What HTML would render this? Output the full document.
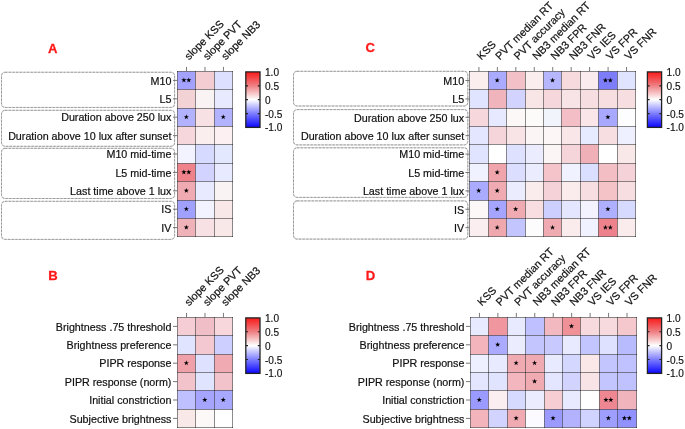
<!DOCTYPE html>
<html><head><meta charset="utf-8"><style>
html,body{margin:0;padding:0;background:#fff;}
body{width:685px;height:429px;overflow:hidden;}
svg{display:block;will-change:transform;}
.l{font-family:"Liberation Sans",sans-serif;font-size:10.73px;fill:#111;stroke:#111;stroke-width:0.2px;}
.h{font-size:10.8px;}
.cb{font-family:"Liberation Sans",sans-serif;font-size:10.1px;fill:#111;stroke:#111;stroke-width:0.15px;}
.p{font-family:"Liberation Sans",sans-serif;font-size:13.1px;font-weight:bold;fill:#ff1a1a;stroke:#ff1a1a;stroke-width:0.3px;}
</style></head><body>
<svg width="685" height="429" viewBox="0 0 685 429">
<defs><linearGradient id="cb" x1="0" y1="0" x2="0" y2="1">
<stop offset="0" stop-color="rgb(250,25,25)"/>
<stop offset="0.25" stop-color="rgb(238,128,132)"/>
<stop offset="0.5" stop-color="rgb(255,255,255)"/>
<stop offset="0.75" stop-color="rgb(125,125,255)"/>
<stop offset="1" stop-color="rgb(10,5,255)"/>
</linearGradient></defs>
<rect width="685" height="429" fill="#fff"/>
<rect x="1.50" y="72.25" width="173.10" height="35.20" rx="3.5" ry="3.5" fill="none" stroke="#d6d6d6" stroke-width="1"/>
<rect x="1.50" y="72.25" width="173.10" height="35.20" rx="3.5" ry="3.5" fill="none" stroke="#959595" stroke-width="0.9" stroke-dasharray="2.4 1.25"/>
<rect x="1.50" y="110.30" width="173.10" height="36.00" rx="3.5" ry="3.5" fill="none" stroke="#d6d6d6" stroke-width="1"/>
<rect x="1.50" y="110.30" width="173.10" height="36.00" rx="3.5" ry="3.5" fill="none" stroke="#959595" stroke-width="0.9" stroke-dasharray="2.4 1.25"/>
<rect x="1.50" y="148.30" width="173.10" height="50.20" rx="3.5" ry="3.5" fill="none" stroke="#d6d6d6" stroke-width="1"/>
<rect x="1.50" y="148.30" width="173.10" height="50.20" rx="3.5" ry="3.5" fill="none" stroke="#959595" stroke-width="0.9" stroke-dasharray="2.4 1.25"/>
<rect x="1.50" y="201.30" width="173.10" height="38.10" rx="3.5" ry="3.5" fill="none" stroke="#d6d6d6" stroke-width="1"/>
<rect x="1.50" y="201.30" width="173.10" height="38.10" rx="3.5" ry="3.5" fill="none" stroke="#959595" stroke-width="0.9" stroke-dasharray="2.4 1.25"/>
<rect x="293.50" y="71.30" width="174.30" height="34.70" rx="3.5" ry="3.5" fill="none" stroke="#d6d6d6" stroke-width="1"/>
<rect x="293.50" y="71.30" width="174.30" height="34.70" rx="3.5" ry="3.5" fill="none" stroke="#959595" stroke-width="0.9" stroke-dasharray="2.4 1.25"/>
<rect x="293.50" y="109.60" width="174.30" height="35.30" rx="3.5" ry="3.5" fill="none" stroke="#d6d6d6" stroke-width="1"/>
<rect x="293.50" y="109.60" width="174.30" height="35.30" rx="3.5" ry="3.5" fill="none" stroke="#959595" stroke-width="0.9" stroke-dasharray="2.4 1.25"/>
<rect x="293.50" y="147.80" width="174.30" height="49.60" rx="3.5" ry="3.5" fill="none" stroke="#d6d6d6" stroke-width="1"/>
<rect x="293.50" y="147.80" width="174.30" height="49.60" rx="3.5" ry="3.5" fill="none" stroke="#959595" stroke-width="0.9" stroke-dasharray="2.4 1.25"/>
<rect x="293.50" y="200.90" width="174.30" height="38.20" rx="3.5" ry="3.5" fill="none" stroke="#d6d6d6" stroke-width="1"/>
<rect x="293.50" y="200.90" width="174.30" height="38.20" rx="3.5" ry="3.5" fill="none" stroke="#959595" stroke-width="0.9" stroke-dasharray="2.4 1.25"/>
<rect x="177.50" y="71.50" width="18.00" height="18.00" fill="rgb(163,163,255)"/>
<rect x="195.50" y="71.50" width="19.00" height="18.00" fill="rgb(243,205,210)"/>
<rect x="214.50" y="71.50" width="18.00" height="18.00" fill="rgb(222,224,255)"/>
<rect x="177.50" y="89.50" width="18.00" height="19.00" fill="rgb(243,210,213)"/>
<rect x="195.50" y="89.50" width="19.00" height="19.00" fill="rgb(250,243,243)"/>
<rect x="214.50" y="89.50" width="18.00" height="19.00" fill="rgb(232,234,255)"/>
<rect x="177.50" y="108.50" width="18.00" height="18.00" fill="rgb(178,178,255)"/>
<rect x="195.50" y="108.50" width="19.00" height="18.00" fill="rgb(247,225,228)"/>
<rect x="214.50" y="108.50" width="18.00" height="18.00" fill="rgb(178,178,255)"/>
<rect x="177.50" y="126.50" width="18.00" height="18.00" fill="rgb(245,215,220)"/>
<rect x="195.50" y="126.50" width="19.00" height="18.00" fill="rgb(250,238,238)"/>
<rect x="214.50" y="126.50" width="18.00" height="18.00" fill="rgb(252,240,243)"/>
<rect x="177.50" y="144.50" width="18.00" height="19.00" fill="rgb(243,243,255)"/>
<rect x="195.50" y="144.50" width="19.00" height="19.00" fill="rgb(215,218,255)"/>
<rect x="214.50" y="144.50" width="18.00" height="19.00" fill="rgb(228,232,255)"/>
<rect x="177.50" y="163.50" width="18.00" height="18.00" fill="rgb(240,130,140)"/>
<rect x="195.50" y="163.50" width="19.00" height="18.00" fill="rgb(210,212,255)"/>
<rect x="214.50" y="163.50" width="18.00" height="18.00" fill="rgb(232,234,255)"/>
<rect x="177.50" y="181.50" width="18.00" height="19.00" fill="rgb(240,170,178)"/>
<rect x="195.50" y="181.50" width="19.00" height="19.00" fill="rgb(232,235,255)"/>
<rect x="214.50" y="181.50" width="18.00" height="19.00" fill="rgb(250,243,243)"/>
<rect x="177.50" y="200.50" width="18.00" height="18.00" fill="rgb(160,160,255)"/>
<rect x="195.50" y="200.50" width="19.00" height="18.00" fill="rgb(243,243,255)"/>
<rect x="214.50" y="200.50" width="18.00" height="18.00" fill="rgb(248,232,232)"/>
<rect x="177.50" y="218.50" width="18.00" height="18.00" fill="rgb(240,178,185)"/>
<rect x="195.50" y="218.50" width="19.00" height="18.00" fill="rgb(248,225,228)"/>
<rect x="214.50" y="218.50" width="18.00" height="18.00" fill="rgb(248,232,232)"/>
<path d="M177.50 71.00V237.00M195.50 71.00V237.00M214.50 71.00V237.00M232.50 71.00V237.00M177.00 71.50H233.00M177.00 89.50H233.00M177.00 108.50H233.00M177.00 126.50H233.00M177.00 144.50H233.00M177.00 163.50H233.00M177.00 181.50H233.00M177.00 200.50H233.00M177.00 218.50H233.00M177.00 236.50H233.00" stroke="rgba(0,0,0,0.45)" stroke-width="1" fill="none"/>
<polygon points="183.88,77.50 184.51,79.33 186.44,79.37 184.90,80.53 185.46,82.38 183.88,81.28 182.29,82.38 182.85,80.53 181.31,79.37 183.24,79.33" fill="#000"/>
<polygon points="188.78,77.50 189.41,79.33 191.34,79.37 189.80,80.53 190.36,82.38 188.78,81.28 187.19,82.38 187.75,80.53 186.21,79.37 188.14,79.33" fill="#000"/>
<polygon points="186.33,114.30 186.96,116.13 188.89,116.17 187.35,117.33 187.91,119.18 186.33,118.08 184.74,119.18 185.30,117.33 183.76,116.17 185.69,116.13" fill="#000"/>
<polygon points="223.23,114.30 223.86,116.13 225.79,116.17 224.25,117.33 224.81,119.18 223.23,118.08 221.64,119.18 222.20,117.33 220.66,116.17 222.59,116.13" fill="#000"/>
<polygon points="183.88,169.50 184.51,171.33 186.44,171.37 184.90,172.53 185.46,174.38 183.88,173.28 182.29,174.38 182.85,172.53 181.31,171.37 183.24,171.33" fill="#000"/>
<polygon points="188.78,169.50 189.41,171.33 191.34,171.37 189.80,172.53 190.36,174.38 188.78,173.28 187.19,174.38 187.75,172.53 186.21,171.37 188.14,171.33" fill="#000"/>
<polygon points="186.33,187.90 186.96,189.73 188.89,189.77 187.35,190.93 187.91,192.78 186.33,191.68 184.74,192.78 185.30,190.93 183.76,189.77 185.69,189.73" fill="#000"/>
<polygon points="186.33,206.30 186.96,208.13 188.89,208.17 187.35,209.33 187.91,211.18 186.33,210.08 184.74,211.18 185.30,209.33 183.76,208.17 185.69,208.13" fill="#000"/>
<polygon points="186.33,224.70 186.96,226.53 188.89,226.57 187.35,227.73 187.91,229.58 186.33,228.48 184.74,229.58 185.30,227.73 183.76,226.57 185.69,226.53" fill="#000"/>
<path d="M173.00 80.40H177.30M173.00 98.80H177.30M173.00 117.20H177.30M173.00 135.60H177.30M173.00 154.00H177.30M173.00 172.40H177.30M173.00 190.80H177.30M173.00 209.20H177.30M173.00 227.60H177.30M186.53 66.90V71.20M204.98 66.90V71.20M223.43 66.90V71.20" stroke="#6a6a6a" stroke-width="0.9" fill="none"/>
<text x="171.40" y="84.64" text-anchor="end" class="l">M10</text>
<text x="171.40" y="103.04" text-anchor="end" class="l">L5</text>
<text x="171.40" y="121.44" text-anchor="end" class="l">Duration above 250 lux</text>
<text x="171.40" y="139.84" text-anchor="end" class="l">Duration above 10 lux after sunset</text>
<text x="171.40" y="158.24" text-anchor="end" class="l">M10 mid-time</text>
<text x="171.40" y="176.64" text-anchor="end" class="l">L5 mid-time</text>
<text x="171.40" y="195.04" text-anchor="end" class="l">Last time above 1 lux</text>
<text x="171.40" y="213.44" text-anchor="end" class="l">IS</text>
<text x="171.40" y="231.84" text-anchor="end" class="l">IV</text>
<text transform="translate(188.93 60.40) rotate(-45)" class="l h">slope KSS</text>
<text transform="translate(207.38 60.40) rotate(-45)" class="l h">slope PVT</text>
<text transform="translate(225.83 60.40) rotate(-45)" class="l h">slope NB3</text>
<rect x="177.50" y="317.50" width="18.00" height="18.00" fill="rgb(245,205,212)"/>
<rect x="195.50" y="317.50" width="19.00" height="18.00" fill="rgb(240,190,198)"/>
<rect x="214.50" y="317.50" width="18.00" height="18.00" fill="rgb(248,215,220)"/>
<rect x="177.50" y="335.50" width="18.00" height="19.00" fill="rgb(225,228,255)"/>
<rect x="195.50" y="335.50" width="19.00" height="19.00" fill="rgb(243,200,208)"/>
<rect x="214.50" y="335.50" width="18.00" height="19.00" fill="rgb(205,208,255)"/>
<rect x="177.50" y="354.50" width="18.00" height="18.00" fill="rgb(240,160,168)"/>
<rect x="195.50" y="354.50" width="19.00" height="18.00" fill="rgb(222,225,255)"/>
<rect x="214.50" y="354.50" width="18.00" height="18.00" fill="rgb(240,170,178)"/>
<rect x="177.50" y="372.50" width="18.00" height="18.00" fill="rgb(243,195,203)"/>
<rect x="195.50" y="372.50" width="19.00" height="18.00" fill="rgb(225,228,255)"/>
<rect x="214.50" y="372.50" width="18.00" height="18.00" fill="rgb(243,195,203)"/>
<rect x="177.50" y="390.50" width="18.00" height="19.00" fill="rgb(190,192,255)"/>
<rect x="195.50" y="390.50" width="19.00" height="19.00" fill="rgb(165,165,255)"/>
<rect x="214.50" y="390.50" width="18.00" height="19.00" fill="rgb(168,168,255)"/>
<rect x="177.50" y="409.50" width="18.00" height="18.00" fill="rgb(248,232,232)"/>
<rect x="195.50" y="409.50" width="19.00" height="18.00" fill="rgb(252,248,248)"/>
<rect x="214.50" y="409.50" width="18.00" height="18.00" fill="rgb(255,255,255)"/>
<path d="M177.50 317.00V428.00M195.50 317.00V428.00M214.50 317.00V428.00M232.50 317.00V428.00M177.00 317.50H233.00M177.00 335.50H233.00M177.00 354.50H233.00M177.00 372.50H233.00M177.00 390.50H233.00M177.00 409.50H233.00M177.00 427.50H233.00" stroke="rgba(0,0,0,0.45)" stroke-width="1" fill="none"/>
<polygon points="186.33,360.30 186.96,362.13 188.89,362.17 187.35,363.33 187.91,365.18 186.33,364.08 184.74,365.18 185.30,363.33 183.76,362.17 185.69,362.13" fill="#000"/>
<polygon points="204.78,397.10 205.41,398.93 207.34,398.97 205.80,400.13 206.36,401.98 204.78,400.88 203.19,401.98 203.75,400.13 202.21,398.97 204.14,398.93" fill="#000"/>
<polygon points="223.23,397.10 223.86,398.93 225.79,398.97 224.25,400.13 224.81,401.98 223.23,400.88 221.64,401.98 222.20,400.13 220.66,398.97 222.59,398.93" fill="#000"/>
<path d="M173.00 326.40H177.30M173.00 344.80H177.30M173.00 363.20H177.30M173.00 381.60H177.30M173.00 400.00H177.30M173.00 418.40H177.30M186.53 312.90V317.20M204.98 312.90V317.20M223.43 312.90V317.20" stroke="#6a6a6a" stroke-width="0.9" fill="none"/>
<text x="171.40" y="330.64" text-anchor="end" class="l">Brightness .75 threshold</text>
<text x="171.40" y="349.04" text-anchor="end" class="l">Brightness preference</text>
<text x="171.40" y="367.44" text-anchor="end" class="l">PIPR response</text>
<text x="171.40" y="385.84" text-anchor="end" class="l">PIPR response (norm)</text>
<text x="171.40" y="404.24" text-anchor="end" class="l">Initial constriction</text>
<text x="171.40" y="422.64" text-anchor="end" class="l">Subjective brightness</text>
<text transform="translate(188.93 306.40) rotate(-45)" class="l h">slope KSS</text>
<text transform="translate(207.38 306.40) rotate(-45)" class="l h">slope PVT</text>
<text transform="translate(225.83 306.40) rotate(-45)" class="l h">slope NB3</text>
<rect x="469.50" y="71.50" width="19.00" height="18.00" fill="rgb(250,238,238)"/>
<rect x="488.50" y="71.50" width="18.00" height="18.00" fill="rgb(170,170,255)"/>
<rect x="506.50" y="71.50" width="19.00" height="18.00" fill="rgb(243,192,200)"/>
<rect x="525.50" y="71.50" width="18.00" height="18.00" fill="rgb(250,238,238)"/>
<rect x="543.50" y="71.50" width="18.00" height="18.00" fill="rgb(182,182,255)"/>
<rect x="561.50" y="71.50" width="19.00" height="18.00" fill="rgb(247,218,222)"/>
<rect x="580.50" y="71.50" width="18.00" height="18.00" fill="rgb(250,235,238)"/>
<rect x="598.50" y="71.50" width="19.00" height="18.00" fill="rgb(125,125,250)"/>
<rect x="617.50" y="71.50" width="18.00" height="18.00" fill="rgb(225,228,255)"/>
<rect x="469.50" y="89.50" width="19.00" height="19.00" fill="rgb(225,228,255)"/>
<rect x="488.50" y="89.50" width="18.00" height="19.00" fill="rgb(240,180,188)"/>
<rect x="506.50" y="89.50" width="19.00" height="19.00" fill="rgb(210,212,255)"/>
<rect x="525.50" y="89.50" width="18.00" height="19.00" fill="rgb(248,230,230)"/>
<rect x="543.50" y="89.50" width="18.00" height="19.00" fill="rgb(245,215,220)"/>
<rect x="561.50" y="89.50" width="19.00" height="19.00" fill="rgb(248,228,230)"/>
<rect x="580.50" y="89.50" width="18.00" height="19.00" fill="rgb(247,222,225)"/>
<rect x="598.50" y="89.50" width="19.00" height="19.00" fill="rgb(247,222,225)"/>
<rect x="617.50" y="89.50" width="18.00" height="19.00" fill="rgb(247,222,225)"/>
<rect x="469.50" y="108.50" width="19.00" height="18.00" fill="rgb(245,215,220)"/>
<rect x="488.50" y="108.50" width="18.00" height="18.00" fill="rgb(230,233,255)"/>
<rect x="506.50" y="108.50" width="19.00" height="18.00" fill="rgb(252,248,248)"/>
<rect x="525.50" y="108.50" width="18.00" height="18.00" fill="rgb(253,250,250)"/>
<rect x="543.50" y="108.50" width="18.00" height="18.00" fill="rgb(242,244,252)"/>
<rect x="561.50" y="108.50" width="19.00" height="18.00" fill="rgb(243,190,198)"/>
<rect x="580.50" y="108.50" width="18.00" height="18.00" fill="rgb(250,230,232)"/>
<rect x="598.50" y="108.50" width="19.00" height="18.00" fill="rgb(168,168,255)"/>
<rect x="617.50" y="108.50" width="18.00" height="18.00" fill="rgb(253,253,255)"/>
<rect x="469.50" y="126.50" width="19.00" height="18.00" fill="rgb(228,230,255)"/>
<rect x="488.50" y="126.50" width="18.00" height="18.00" fill="rgb(245,212,218)"/>
<rect x="506.50" y="126.50" width="19.00" height="18.00" fill="rgb(248,228,230)"/>
<rect x="525.50" y="126.50" width="18.00" height="18.00" fill="rgb(252,245,246)"/>
<rect x="543.50" y="126.50" width="18.00" height="18.00" fill="rgb(252,246,246)"/>
<rect x="561.50" y="126.50" width="19.00" height="18.00" fill="rgb(248,230,232)"/>
<rect x="580.50" y="126.50" width="18.00" height="18.00" fill="rgb(230,235,255)"/>
<rect x="598.50" y="126.50" width="19.00" height="18.00" fill="rgb(246,222,225)"/>
<rect x="617.50" y="126.50" width="18.00" height="18.00" fill="rgb(238,240,255)"/>
<rect x="469.50" y="144.50" width="19.00" height="19.00" fill="rgb(225,228,255)"/>
<rect x="488.50" y="144.50" width="18.00" height="19.00" fill="rgb(255,255,255)"/>
<rect x="506.50" y="144.50" width="19.00" height="19.00" fill="rgb(222,225,255)"/>
<rect x="525.50" y="144.50" width="18.00" height="19.00" fill="rgb(235,237,255)"/>
<rect x="543.50" y="144.50" width="18.00" height="19.00" fill="rgb(252,245,246)"/>
<rect x="561.50" y="144.50" width="19.00" height="19.00" fill="rgb(245,212,218)"/>
<rect x="580.50" y="144.50" width="18.00" height="19.00" fill="rgb(240,176,184)"/>
<rect x="598.50" y="144.50" width="19.00" height="19.00" fill="rgb(255,255,255)"/>
<rect x="617.50" y="144.50" width="18.00" height="19.00" fill="rgb(248,232,232)"/>
<rect x="469.50" y="163.50" width="19.00" height="18.00" fill="rgb(240,242,255)"/>
<rect x="488.50" y="163.50" width="18.00" height="18.00" fill="rgb(240,165,173)"/>
<rect x="506.50" y="163.50" width="19.00" height="18.00" fill="rgb(220,222,255)"/>
<rect x="525.50" y="163.50" width="18.00" height="18.00" fill="rgb(235,237,255)"/>
<rect x="543.50" y="163.50" width="18.00" height="18.00" fill="rgb(245,195,202)"/>
<rect x="561.50" y="163.50" width="19.00" height="18.00" fill="rgb(240,243,255)"/>
<rect x="580.50" y="163.50" width="18.00" height="18.00" fill="rgb(218,222,255)"/>
<rect x="598.50" y="163.50" width="19.00" height="18.00" fill="rgb(243,190,196)"/>
<rect x="617.50" y="163.50" width="18.00" height="18.00" fill="rgb(245,210,215)"/>
<rect x="469.50" y="181.50" width="19.00" height="19.00" fill="rgb(170,170,255)"/>
<rect x="488.50" y="181.50" width="18.00" height="19.00" fill="rgb(240,170,178)"/>
<rect x="506.50" y="181.50" width="19.00" height="19.00" fill="rgb(235,237,255)"/>
<rect x="525.50" y="181.50" width="18.00" height="19.00" fill="rgb(250,235,236)"/>
<rect x="543.50" y="181.50" width="18.00" height="19.00" fill="rgb(245,210,215)"/>
<rect x="561.50" y="181.50" width="19.00" height="19.00" fill="rgb(250,235,236)"/>
<rect x="580.50" y="181.50" width="18.00" height="19.00" fill="rgb(247,222,225)"/>
<rect x="598.50" y="181.50" width="19.00" height="19.00" fill="rgb(243,195,200)"/>
<rect x="617.50" y="181.50" width="18.00" height="19.00" fill="rgb(247,222,225)"/>
<rect x="469.50" y="200.50" width="19.00" height="18.00" fill="rgb(252,248,248)"/>
<rect x="488.50" y="200.50" width="18.00" height="18.00" fill="rgb(165,165,255)"/>
<rect x="506.50" y="200.50" width="19.00" height="18.00" fill="rgb(240,170,178)"/>
<rect x="525.50" y="200.50" width="18.00" height="18.00" fill="rgb(248,222,225)"/>
<rect x="543.50" y="200.50" width="18.00" height="18.00" fill="rgb(205,207,255)"/>
<rect x="561.50" y="200.50" width="19.00" height="18.00" fill="rgb(228,230,255)"/>
<rect x="580.50" y="200.50" width="18.00" height="18.00" fill="rgb(242,243,255)"/>
<rect x="598.50" y="200.50" width="19.00" height="18.00" fill="rgb(175,175,255)"/>
<rect x="617.50" y="200.50" width="18.00" height="18.00" fill="rgb(215,218,255)"/>
<rect x="469.50" y="218.50" width="19.00" height="18.00" fill="rgb(250,238,240)"/>
<rect x="488.50" y="218.50" width="18.00" height="18.00" fill="rgb(240,168,175)"/>
<rect x="506.50" y="218.50" width="19.00" height="18.00" fill="rgb(195,197,255)"/>
<rect x="525.50" y="218.50" width="18.00" height="18.00" fill="rgb(253,252,252)"/>
<rect x="543.50" y="218.50" width="18.00" height="18.00" fill="rgb(240,170,178)"/>
<rect x="561.50" y="218.50" width="19.00" height="18.00" fill="rgb(250,235,236)"/>
<rect x="580.50" y="218.50" width="18.00" height="18.00" fill="rgb(240,242,255)"/>
<rect x="598.50" y="218.50" width="19.00" height="18.00" fill="rgb(238,130,140)"/>
<rect x="617.50" y="218.50" width="18.00" height="18.00" fill="rgb(250,235,236)"/>
<path d="M469.50 71.00V237.00M488.50 71.00V237.00M506.50 71.00V237.00M525.50 71.00V237.00M543.50 71.00V237.00M561.50 71.00V237.00M580.50 71.00V237.00M598.50 71.00V237.00M617.50 71.00V237.00M635.50 71.00V237.00M469.00 71.50H636.00M469.00 89.50H636.00M469.00 108.50H636.00M469.00 126.50H636.00M469.00 144.50H636.00M469.00 163.50H636.00M469.00 181.50H636.00M469.00 200.50H636.00M469.00 218.50H636.00M469.00 236.50H636.00" stroke="rgba(0,0,0,0.45)" stroke-width="1" fill="none"/>
<polygon points="497.18,77.60 497.81,79.43 499.74,79.47 498.20,80.63 498.76,82.48 497.18,81.38 495.59,82.48 496.15,80.63 494.61,79.47 496.54,79.43" fill="#000"/>
<polygon points="552.52,77.60 553.16,79.43 555.09,79.47 553.55,80.63 554.11,82.48 552.52,81.38 550.94,82.48 551.50,80.63 549.96,79.47 551.89,79.43" fill="#000"/>
<polygon points="605.42,77.60 606.06,79.43 607.99,79.47 606.45,80.63 607.01,82.48 605.42,81.38 603.84,82.48 604.40,80.63 602.86,79.47 604.79,79.43" fill="#000"/>
<polygon points="610.33,77.60 610.96,79.43 612.89,79.47 611.35,80.63 611.91,82.48 610.33,81.38 608.74,82.48 609.30,80.63 607.76,79.47 609.69,79.43" fill="#000"/>
<polygon points="607.88,114.40 608.51,116.23 610.44,116.27 608.90,117.43 609.46,119.28 607.88,118.18 606.29,119.28 606.85,117.43 605.31,116.27 607.24,116.23" fill="#000"/>
<polygon points="497.18,169.60 497.81,171.43 499.74,171.47 498.20,172.63 498.76,174.48 497.18,173.38 495.59,174.48 496.15,172.63 494.61,171.47 496.54,171.43" fill="#000"/>
<polygon points="478.73,188.00 479.36,189.83 481.29,189.87 479.75,191.03 480.31,192.88 478.73,191.78 477.14,192.88 477.70,191.03 476.16,189.87 478.09,189.83" fill="#000"/>
<polygon points="497.18,188.00 497.81,189.83 499.74,189.87 498.20,191.03 498.76,192.88 497.18,191.78 495.59,192.88 496.15,191.03 494.61,189.87 496.54,189.83" fill="#000"/>
<polygon points="497.18,206.40 497.81,208.23 499.74,208.27 498.20,209.43 498.76,211.28 497.18,210.18 495.59,211.28 496.15,209.43 494.61,208.27 496.54,208.23" fill="#000"/>
<polygon points="515.62,206.40 516.26,208.23 518.19,208.27 516.65,209.43 517.21,211.28 515.62,210.18 514.04,211.28 514.60,209.43 513.06,208.27 514.99,208.23" fill="#000"/>
<polygon points="607.88,206.40 608.51,208.23 610.44,208.27 608.90,209.43 609.46,211.28 607.88,210.18 606.29,211.28 606.85,209.43 605.31,208.27 607.24,208.23" fill="#000"/>
<polygon points="497.18,224.80 497.81,226.63 499.74,226.67 498.20,227.83 498.76,229.68 497.18,228.58 495.59,229.68 496.15,227.83 494.61,226.67 496.54,226.63" fill="#000"/>
<polygon points="552.52,224.80 553.16,226.63 555.09,226.67 553.55,227.83 554.11,229.68 552.52,228.58 550.94,229.68 551.50,227.83 549.96,226.67 551.89,226.63" fill="#000"/>
<polygon points="605.42,224.80 606.06,226.63 607.99,226.67 606.45,227.83 607.01,229.68 605.42,228.58 603.84,229.68 604.40,227.83 602.86,226.67 604.79,226.63" fill="#000"/>
<polygon points="610.33,224.80 610.96,226.63 612.89,226.67 611.35,227.83 611.91,229.68 610.33,228.58 608.74,229.68 609.30,227.83 607.76,226.67 609.69,226.63" fill="#000"/>
<path d="M465.40 80.50H469.70M465.40 98.90H469.70M465.40 117.30H469.70M465.40 135.70H469.70M465.40 154.10H469.70M465.40 172.50H469.70M465.40 190.90H469.70M465.40 209.30H469.70M465.40 227.70H469.70M478.93 67.00V71.30M497.38 67.00V71.30M515.83 67.00V71.30M534.27 67.00V71.30M552.73 67.00V71.30M571.17 67.00V71.30M589.62 67.00V71.30M608.08 67.00V71.30M626.52 67.00V71.30" stroke="#6a6a6a" stroke-width="0.9" fill="none"/>
<text x="464.20" y="84.74" text-anchor="end" class="l">M10</text>
<text x="464.20" y="103.14" text-anchor="end" class="l">L5</text>
<text x="464.20" y="121.54" text-anchor="end" class="l">Duration above 250 lux</text>
<text x="464.20" y="139.94" text-anchor="end" class="l">Duration above 10 lux after sunset</text>
<text x="464.20" y="158.34" text-anchor="end" class="l">M10 mid-time</text>
<text x="464.20" y="176.74" text-anchor="end" class="l">L5 mid-time</text>
<text x="464.20" y="195.14" text-anchor="end" class="l">Last time above 1 lux</text>
<text x="464.20" y="213.54" text-anchor="end" class="l">IS</text>
<text x="464.20" y="231.94" text-anchor="end" class="l">IV</text>
<text transform="translate(481.32 60.40) rotate(-45)" class="l h">KSS</text>
<text transform="translate(499.77 60.40) rotate(-45)" class="l h">PVT median RT</text>
<text transform="translate(518.23 60.40) rotate(-45)" class="l h">PVT accuracy</text>
<text transform="translate(536.67 60.40) rotate(-45)" class="l h">NB3 median RT</text>
<text transform="translate(555.12 60.40) rotate(-45)" class="l h">NB3 FPR</text>
<text transform="translate(573.57 60.40) rotate(-45)" class="l h">NB3 FNR</text>
<text transform="translate(592.02 60.40) rotate(-45)" class="l h">VS IES</text>
<text transform="translate(610.48 60.40) rotate(-45)" class="l h">VS FPR</text>
<text transform="translate(628.92 60.40) rotate(-45)" class="l h">VS FNR</text>
<rect x="470.50" y="317.50" width="18.00" height="18.00" fill="rgb(232,234,255)"/>
<rect x="488.50" y="317.50" width="19.00" height="18.00" fill="rgb(240,150,158)"/>
<rect x="507.50" y="317.50" width="18.00" height="18.00" fill="rgb(232,234,255)"/>
<rect x="525.50" y="317.50" width="19.00" height="18.00" fill="rgb(190,192,255)"/>
<rect x="544.50" y="317.50" width="18.00" height="18.00" fill="rgb(243,185,192)"/>
<rect x="562.50" y="317.50" width="18.00" height="18.00" fill="rgb(240,145,152)"/>
<rect x="580.50" y="317.50" width="19.00" height="18.00" fill="rgb(247,218,222)"/>
<rect x="599.50" y="317.50" width="18.00" height="18.00" fill="rgb(247,218,222)"/>
<rect x="617.50" y="317.50" width="19.00" height="18.00" fill="rgb(245,200,205)"/>
<rect x="470.50" y="335.50" width="18.00" height="19.00" fill="rgb(243,180,188)"/>
<rect x="488.50" y="335.50" width="19.00" height="19.00" fill="rgb(170,170,255)"/>
<rect x="507.50" y="335.50" width="18.00" height="19.00" fill="rgb(235,237,255)"/>
<rect x="525.50" y="335.50" width="19.00" height="19.00" fill="rgb(195,197,255)"/>
<rect x="544.50" y="335.50" width="18.00" height="19.00" fill="rgb(200,202,255)"/>
<rect x="562.50" y="335.50" width="18.00" height="19.00" fill="rgb(232,235,255)"/>
<rect x="580.50" y="335.50" width="19.00" height="19.00" fill="rgb(195,197,255)"/>
<rect x="599.50" y="335.50" width="18.00" height="19.00" fill="rgb(222,225,255)"/>
<rect x="617.50" y="335.50" width="19.00" height="19.00" fill="rgb(185,187,255)"/>
<rect x="470.50" y="354.50" width="18.00" height="18.00" fill="rgb(238,240,255)"/>
<rect x="488.50" y="354.50" width="19.00" height="18.00" fill="rgb(232,235,255)"/>
<rect x="507.50" y="354.50" width="18.00" height="18.00" fill="rgb(240,170,178)"/>
<rect x="525.50" y="354.50" width="19.00" height="18.00" fill="rgb(240,170,178)"/>
<rect x="544.50" y="354.50" width="18.00" height="18.00" fill="rgb(232,235,255)"/>
<rect x="562.50" y="354.50" width="18.00" height="18.00" fill="rgb(212,215,255)"/>
<rect x="580.50" y="354.50" width="19.00" height="18.00" fill="rgb(250,232,232)"/>
<rect x="599.50" y="354.50" width="18.00" height="18.00" fill="rgb(195,197,255)"/>
<rect x="617.50" y="354.50" width="19.00" height="18.00" fill="rgb(192,194,255)"/>
<rect x="470.50" y="372.50" width="18.00" height="18.00" fill="rgb(228,230,255)"/>
<rect x="488.50" y="372.50" width="19.00" height="18.00" fill="rgb(225,228,255)"/>
<rect x="507.50" y="372.50" width="18.00" height="18.00" fill="rgb(243,182,190)"/>
<rect x="525.50" y="372.50" width="19.00" height="18.00" fill="rgb(240,170,178)"/>
<rect x="544.50" y="372.50" width="18.00" height="18.00" fill="rgb(228,230,255)"/>
<rect x="562.50" y="372.50" width="18.00" height="18.00" fill="rgb(210,212,255)"/>
<rect x="580.50" y="372.50" width="19.00" height="18.00" fill="rgb(248,228,230)"/>
<rect x="599.50" y="372.50" width="18.00" height="18.00" fill="rgb(195,197,255)"/>
<rect x="617.50" y="372.50" width="19.00" height="18.00" fill="rgb(192,194,255)"/>
<rect x="470.50" y="390.50" width="18.00" height="19.00" fill="rgb(155,155,255)"/>
<rect x="488.50" y="390.50" width="19.00" height="19.00" fill="rgb(250,238,240)"/>
<rect x="507.50" y="390.50" width="18.00" height="19.00" fill="rgb(215,218,255)"/>
<rect x="525.50" y="390.50" width="19.00" height="19.00" fill="rgb(235,237,255)"/>
<rect x="544.50" y="390.50" width="18.00" height="19.00" fill="rgb(245,205,210)"/>
<rect x="562.50" y="390.50" width="18.00" height="19.00" fill="rgb(232,235,255)"/>
<rect x="580.50" y="390.50" width="19.00" height="19.00" fill="rgb(255,255,255)"/>
<rect x="599.50" y="390.50" width="18.00" height="19.00" fill="rgb(238,135,145)"/>
<rect x="617.50" y="390.50" width="19.00" height="19.00" fill="rgb(240,180,188)"/>
<rect x="470.50" y="409.50" width="18.00" height="18.00" fill="rgb(243,180,188)"/>
<rect x="488.50" y="409.50" width="19.00" height="18.00" fill="rgb(210,212,255)"/>
<rect x="507.50" y="409.50" width="18.00" height="18.00" fill="rgb(240,170,178)"/>
<rect x="525.50" y="409.50" width="19.00" height="18.00" fill="rgb(250,250,255)"/>
<rect x="544.50" y="409.50" width="18.00" height="18.00" fill="rgb(155,155,255)"/>
<rect x="562.50" y="409.50" width="18.00" height="18.00" fill="rgb(178,178,255)"/>
<rect x="580.50" y="409.50" width="19.00" height="18.00" fill="rgb(208,210,255)"/>
<rect x="599.50" y="409.50" width="18.00" height="18.00" fill="rgb(158,158,255)"/>
<rect x="617.50" y="409.50" width="19.00" height="18.00" fill="rgb(145,145,255)"/>
<path d="M470.50 317.00V428.00M488.50 317.00V428.00M507.50 317.00V428.00M525.50 317.00V428.00M544.50 317.00V428.00M562.50 317.00V428.00M580.50 317.00V428.00M599.50 317.00V428.00M617.50 317.00V428.00M636.50 317.00V428.00M470.00 317.50H637.00M470.00 335.50H637.00M470.00 354.50H637.00M470.00 372.50H637.00M470.00 390.50H637.00M470.00 409.50H637.00M470.00 427.50H637.00" stroke="rgba(0,0,0,0.45)" stroke-width="1" fill="none"/>
<polygon points="571.47,323.50 572.11,325.33 574.04,325.37 572.50,326.53 573.06,328.38 571.47,327.28 569.89,328.38 570.45,326.53 568.91,325.37 570.84,325.33" fill="#000"/>
<polygon points="497.68,341.90 498.31,343.73 500.24,343.77 498.70,344.93 499.26,346.78 497.68,345.68 496.09,346.78 496.65,344.93 495.11,343.77 497.04,343.73" fill="#000"/>
<polygon points="516.12,360.30 516.76,362.13 518.69,362.17 517.15,363.33 517.71,365.18 516.12,364.08 514.54,365.18 515.10,363.33 513.56,362.17 515.49,362.13" fill="#000"/>
<polygon points="534.57,360.30 535.21,362.13 537.14,362.17 535.60,363.33 536.16,365.18 534.57,364.08 532.99,365.18 533.55,363.33 532.01,362.17 533.94,362.13" fill="#000"/>
<polygon points="534.57,378.70 535.21,380.53 537.14,380.57 535.60,381.73 536.16,383.58 534.57,382.48 532.99,383.58 533.55,381.73 532.01,380.57 533.94,380.53" fill="#000"/>
<polygon points="479.23,397.10 479.86,398.93 481.79,398.97 480.25,400.13 480.81,401.98 479.23,400.88 477.64,401.98 478.20,400.13 476.66,398.97 478.59,398.93" fill="#000"/>
<polygon points="605.92,397.10 606.56,398.93 608.49,398.97 606.95,400.13 607.51,401.98 605.92,400.88 604.34,401.98 604.90,400.13 603.36,398.97 605.29,398.93" fill="#000"/>
<polygon points="610.83,397.10 611.46,398.93 613.39,398.97 611.85,400.13 612.41,401.98 610.83,400.88 609.24,401.98 609.80,400.13 608.26,398.97 610.19,398.93" fill="#000"/>
<polygon points="516.12,415.50 516.76,417.33 518.69,417.37 517.15,418.53 517.71,420.38 516.12,419.28 514.54,420.38 515.10,418.53 513.56,417.37 515.49,417.33" fill="#000"/>
<polygon points="553.02,415.50 553.66,417.33 555.59,417.37 554.05,418.53 554.61,420.38 553.02,419.28 551.44,420.38 552.00,418.53 550.46,417.37 552.39,417.33" fill="#000"/>
<polygon points="608.38,415.50 609.01,417.33 610.94,417.37 609.40,418.53 609.96,420.38 608.38,419.28 606.79,420.38 607.35,418.53 605.81,417.37 607.74,417.33" fill="#000"/>
<polygon points="624.37,415.50 625.01,417.33 626.94,417.37 625.40,418.53 625.96,420.38 624.37,419.28 622.79,420.38 623.35,418.53 621.81,417.37 623.74,417.33" fill="#000"/>
<polygon points="629.27,415.50 629.91,417.33 631.84,417.37 630.30,418.53 630.86,420.38 629.27,419.28 627.69,420.38 628.25,418.53 626.71,417.37 628.64,417.33" fill="#000"/>
<path d="M465.90 326.40H470.20M465.90 344.80H470.20M465.90 363.20H470.20M465.90 381.60H470.20M465.90 400.00H470.20M465.90 418.40H470.20M479.43 312.90V317.20M497.88 312.90V317.20M516.33 312.90V317.20M534.77 312.90V317.20M553.23 312.90V317.20M571.67 312.90V317.20M590.12 312.90V317.20M608.58 312.90V317.20M627.02 312.90V317.20" stroke="#6a6a6a" stroke-width="0.9" fill="none"/>
<text x="464.40" y="330.64" text-anchor="end" class="l">Brightness .75 threshold</text>
<text x="464.40" y="349.04" text-anchor="end" class="l">Brightness preference</text>
<text x="464.40" y="367.44" text-anchor="end" class="l">PIPR response</text>
<text x="464.40" y="385.84" text-anchor="end" class="l">PIPR response (norm)</text>
<text x="464.40" y="404.24" text-anchor="end" class="l">Initial constriction</text>
<text x="464.40" y="422.64" text-anchor="end" class="l">Subjective brightness</text>
<text transform="translate(481.82 306.40) rotate(-45)" class="l h">KSS</text>
<text transform="translate(500.27 306.40) rotate(-45)" class="l h">PVT median RT</text>
<text transform="translate(518.73 306.40) rotate(-45)" class="l h">PVT accuracy</text>
<text transform="translate(537.17 306.40) rotate(-45)" class="l h">NB3 median RT</text>
<text transform="translate(555.62 306.40) rotate(-45)" class="l h">NB3 FPR</text>
<text transform="translate(574.07 306.40) rotate(-45)" class="l h">NB3 FNR</text>
<text transform="translate(592.52 306.40) rotate(-45)" class="l h">VS IES</text>
<text transform="translate(610.98 306.40) rotate(-45)" class="l h">VS FPR</text>
<text transform="translate(629.42 306.40) rotate(-45)" class="l h">VS FNR</text>
<rect x="245.80" y="71.90" width="14.20" height="55.50" fill="url(#cb)" stroke="#222" stroke-width="1.3"/>
<text x="265.00" y="75.92" class="cb">1.0</text>
<text x="265.00" y="89.79" class="cb">0.5</text>
<text x="265.00" y="103.67" class="cb">0</text>
<text x="265.00" y="117.54" class="cb">-0.5</text>
<text x="265.00" y="131.42" class="cb">-1.0</text>
<path d="M245.80 85.78h2.2M260.00 85.78h-2.2M245.80 99.65h2.2M260.00 99.65h-2.2M245.80 113.53h2.2M260.00 113.53h-2.2" stroke="#222" stroke-width="1.2" fill="none"/>
<rect x="647.40" y="71.90" width="14.20" height="55.50" fill="url(#cb)" stroke="#222" stroke-width="1.3"/>
<text x="666.60" y="75.92" class="cb">1.0</text>
<text x="666.60" y="89.79" class="cb">0.5</text>
<text x="666.60" y="103.67" class="cb">0</text>
<text x="666.60" y="117.54" class="cb">-0.5</text>
<text x="666.60" y="131.42" class="cb">-1.0</text>
<path d="M647.40 85.78h2.2M661.60 85.78h-2.2M647.40 99.65h2.2M661.60 99.65h-2.2M647.40 113.53h2.2M661.60 113.53h-2.2" stroke="#222" stroke-width="1.2" fill="none"/>
<rect x="245.80" y="317.90" width="14.20" height="55.50" fill="url(#cb)" stroke="#222" stroke-width="1.3"/>
<text x="265.00" y="321.92" class="cb">1.0</text>
<text x="265.00" y="335.79" class="cb">0.5</text>
<text x="265.00" y="349.67" class="cb">0</text>
<text x="265.00" y="363.54" class="cb">-0.5</text>
<text x="265.00" y="377.42" class="cb">-1.0</text>
<path d="M245.80 331.77h2.2M260.00 331.77h-2.2M245.80 345.65h2.2M260.00 345.65h-2.2M245.80 359.52h2.2M260.00 359.52h-2.2" stroke="#222" stroke-width="1.2" fill="none"/>
<rect x="647.40" y="317.90" width="14.20" height="55.50" fill="url(#cb)" stroke="#222" stroke-width="1.3"/>
<text x="666.60" y="321.92" class="cb">1.0</text>
<text x="666.60" y="335.79" class="cb">0.5</text>
<text x="666.60" y="349.67" class="cb">0</text>
<text x="666.60" y="363.54" class="cb">-0.5</text>
<text x="666.60" y="377.42" class="cb">-1.0</text>
<path d="M647.40 331.77h2.2M661.60 331.77h-2.2M647.40 345.65h2.2M661.60 345.65h-2.2M647.40 359.52h2.2M661.60 359.52h-2.2" stroke="#222" stroke-width="1.2" fill="none"/>
<text x="48.00" y="52.80" class="p">A</text>
<text x="48.20" y="279.90" class="p">B</text>
<text x="365.40" y="52.40" class="p">C</text>
<text x="365.80" y="279.90" class="p">D</text>
</svg>
</body></html>
